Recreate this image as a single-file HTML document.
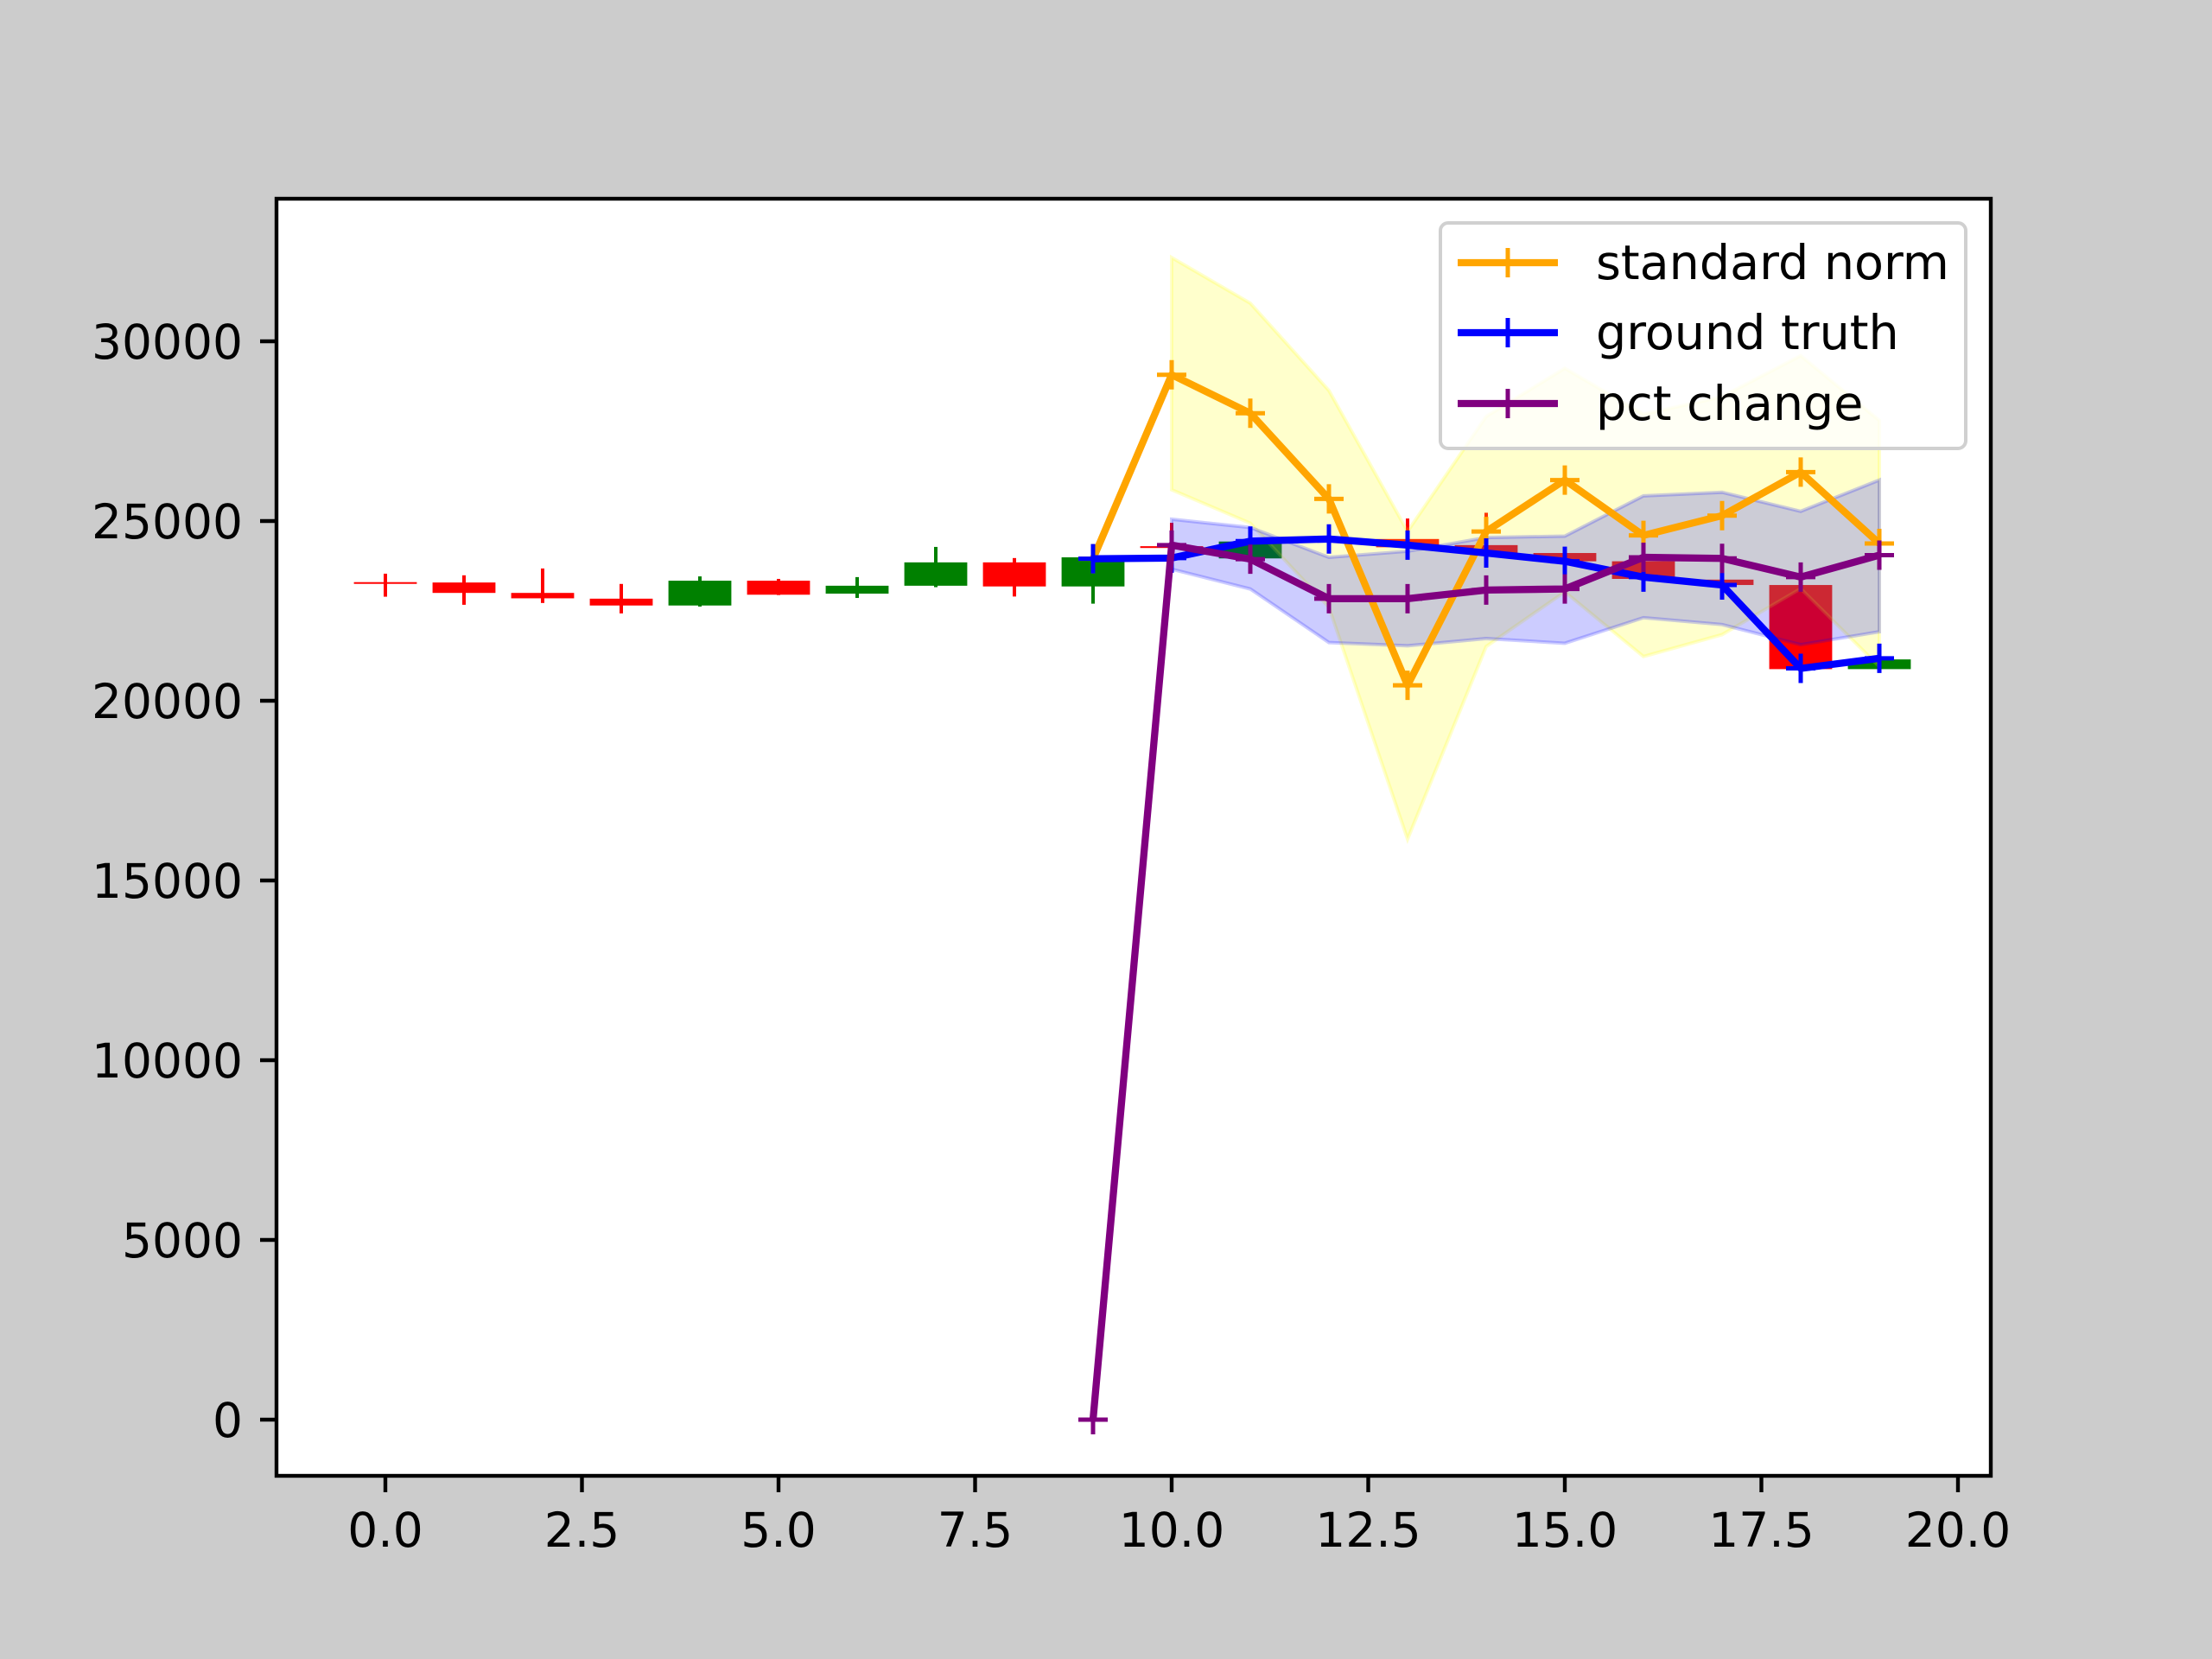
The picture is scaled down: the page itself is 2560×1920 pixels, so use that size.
<!DOCTYPE html>
<html><head><meta charset="utf-8"><style>
html,body{margin:0;padding:0;background:#cccccc;}
svg{display:block;font-family:"DejaVu Sans","Liberation Sans",sans-serif;}
</style></head><body>
<svg id="chart" width="2560" height="1920" viewBox="0 0 2560 1920" xmlns="http://www.w3.org/2000/svg">
<rect x="0" y="0" width="2560" height="1920" fill="#cccccc"/>
<rect x="320" y="230" width="1984" height="1478" fill="#ffffff"/>
<g id="marks"></g>
<rect x="320" y="230" width="1984" height="1478" fill="none" stroke="#000" stroke-width="4.4"/>
<g id="axes"></g>
<g id="legend"></g>
</svg>
<script>
const candleX=[0,1,2,3,4,5,6,7,8,9,10,11,12,13,14,15,16,17,18,19];
const candleOpen=[23300,23290,23000,22840,22650,23340,22980,23200,23850,23180,24300,23960,24450,24500,24330,24110,23880,23370,23220,20880];
const candleClose=[23300,23000,22850,22650,23340,22950,23200,23850,23180,23990,24250,24430,24400,24270,24110,23880,23390,23220,20880,21150];
const candleHigh=[23535,23490,23680,23250,23460,23390,23440,24280,23970,24300,24950,24600,24550,25070,25230,24200,23950,23400,23300,21250];
const candleLow=[22895,22670,22720,22430,22620,22940,22860,23160,22900,22700,24000,23900,24300,24000,24000,23800,23300,23150,20800,20850];
const lineX=[9,10,11,12,13,14,15,16,17,18,19];
const normVals=[23950,29070,28000,25615,20430,24710,26140,24600,25150,26360,24375];
const bandX=[10,11,12,13,14,15,16,17,18,19];
const normUpper=[32330,31060,28630,24710,27910,29250,27970,28460,29600,27800];
const normLower=[25870,24940,22600,16150,21510,23030,21230,21840,23120,20950];
const truthVals=[23950,23970,24440,24500,24330,24110,23880,23440,23220,20900,21180];
const truthUpper=[25050,24820,23990,24160,24540,24580,25700,25800,25270,26140];
const truthLower=[23660,23110,21620,21530,21730,21600,22310,22120,21560,21920];
const pctVals=[0,24330,23940,22840,22840,23080,23110,23990,23960,23440,24050];
const xTicks=[0,2.5,5,7.5,10,12.5,15,17.5,20];
const xTickLabels=["0.0","2.5","5.0","7.5","10.0","12.5","15.0","17.5","20.0"];
const yTicks=[0,5000,10000,15000,20000,25000,30000];
const yTickLabels=["0","5000","10000","15000","20000","25000","30000"];

const NS="http://www.w3.org/2000/svg";
function X(v){return 446+v*91.0;}
function Y(v){return 1643-v*208/5000;}
function mk(tag,attrs,parent){const e=document.createElementNS(NS,tag);for(const k in attrs)e.setAttribute(k,attrs[k]);parent.appendChild(e);return e;}
const marks=document.getElementById('marks');
const axes=document.getElementById('axes');
const legend=document.getElementById('legend');

candleX.forEach((x,i)=>{
  const up=candleClose[i]>candleOpen[i];
  const col=up?'#008000':'#ff0000';
  const w=mk('line',{x1:X(x),x2:X(x),y1:Y(candleHigh[i]),y2:Y(candleLow[i]),stroke:col,'stroke-width':4},marks);
  
  
  const top=Math.max(candleOpen[i],candleClose[i]),bot=Math.min(candleOpen[i],candleClose[i]);
  const h=Math.max(Y(bot)-Y(top),2);
  const b=mk('rect',{x:X(x-0.4),y:Y(top),width:X(0.8)-X(0),height:h,fill:col},marks);
  
  
});

function band(xs,up,lo,fill,stroke,name){
  let d='';
  xs.forEach((x,i)=>{d+=(i?'L':'M')+X(x)+','+Y(up[i]);});
  for(let i=xs.length-1;i>=0;i--)d+='L'+X(xs[i])+','+Y(lo[i]);
  d+='Z';
  const p=mk('path',{d:d,fill:fill,stroke:stroke,'stroke-width':4},marks);
  
  
}
band(bandX,normUpper,normLower,'rgba(255,255,0,0.2)','rgba(255,255,0,0.2)','standard-norm-band');
band(bandX,truthUpper,truthLower,'rgba(0,0,255,0.2)','rgba(0,0,255,0.2)','ground-truth-band');

function series(xs,vals,col,name){
  const pts=xs.map((x,i)=>X(x)+','+Y(vals[i])).join(' ');
  const l=mk('polyline',{points:pts,fill:'none',stroke:col,'stroke-width':8.3,'stroke-linejoin':'round'},marks);
  
  
  xs.forEach((x,i)=>{
    const cx=X(x),cy=Y(vals[i]);
    const m=mk('path',{d:`M${cx-17},${cy}H${cx+17}M${cx},${cy-17}V${cy+17}`,stroke:col,'stroke-width':5},marks);
    
    
  });
}
series(lineX,normVals,'#ffa500','standard-norm');
series(lineX,truthVals,'#0000ff','ground-truth');
series(lineX,pctVals,'#800080','pct-change');

xTicks.forEach((t,i)=>{
  const tk=mk('line',{x1:X(t),x2:X(t),y1:1708,y2:1727,stroke:'#000','stroke-width':4.4},axes);
  
  
  const tx=mk('text',{x:X(t),y:1790,'font-size':55,'text-anchor':'middle',fill:'#000'},axes);
  tx.textContent=xTickLabels[i];
  
  
});
yTicks.forEach((t,i)=>{
  const tk=mk('line',{x1:301,x2:320,y1:Y(t),y2:Y(t),stroke:'#000','stroke-width':4.4},axes);
  
  
  const tx=mk('text',{x:281,y:Y(t)+20,'font-size':55,'text-anchor':'end',fill:'#000'},axes);
  tx.textContent=yTickLabels[i];
  
  
});

const lb=mk('rect',{x:1667,y:258,width:608,height:261,rx:9,fill:'rgba(255,255,255,0.8)',stroke:'#d0d0d0','stroke-width':4},legend);


const legNames=['standard norm','ground truth','pct change'];
const legCols=['#ffa500','#0000ff','#800080'];
const legY=[304,385,467];
legNames.forEach((n,i)=>{
  const g=mk('g',{},legend);
  
  
  mk('line',{x1:1687,x2:1803,y1:legY[i],y2:legY[i],stroke:legCols[i],'stroke-width':8.3},g);
  mk('path',{d:`M1728,${legY[i]}H1762M1745,${legY[i]-17}V${legY[i]+17}`,stroke:legCols[i],'stroke-width':5},g);
  const t=mk('text',{x:1847,y:legY[i]+19,'font-size':55.5,fill:'#000'},g);
  t.textContent=n;
});
</script>
</body></html>
